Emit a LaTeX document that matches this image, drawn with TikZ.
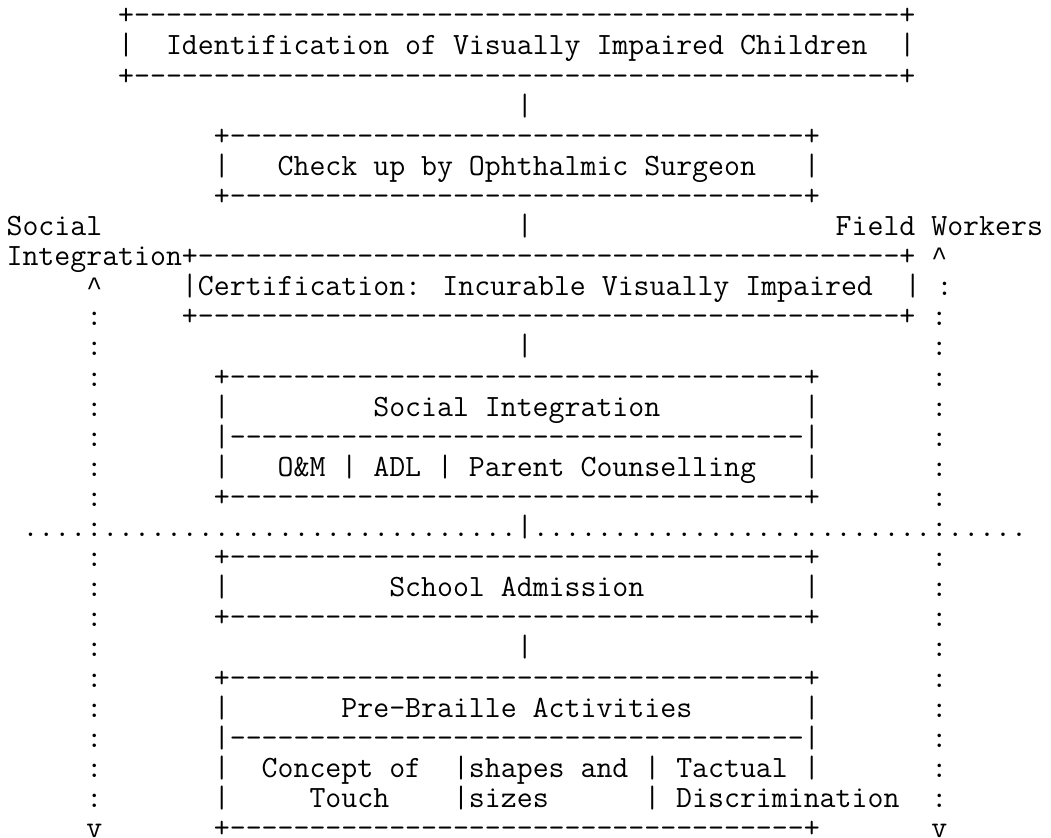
\documentclass[tikz,border=0pt]{standalone}
\usepackage{fontspec}
\newfontfamily\libmono{Liberation Mono}
\ExplSyntaxOn
\NewDocumentCommand\myrep{mm}{\prg_replicate:nn{#1}{#2}}
\ExplSyntaxOff
\newcommand\sk[1]{\hspace*{\dimexpr\fontcharwd\font`x*#1\relax}}
\newcommand\crt{\makebox[\fontcharwd\font`x]{\libmono\fontsize{13.27pt}{15pt}\selectfont\textasciicircum}}
\tikzset{
  ln/.style={anchor=base west, inner sep=0pt, outer sep=0pt, text=black,
    font=\ttfamily\fontsize{15.48pt}{17pt}\selectfont}
}
\begin{document}
\begin{tikzpicture}[x=1pt,y=1pt]
\useasboundingbox (0,0) rectangle (525.5,-419);
\fill[white] (0,0) rectangle (525.5,-419);
\def\xo{3.3}
\def\pitch{15.05}
\def\yo{12.45}
\newcommand\Y[1]{-\yo-(#1-1)*\pitch}
\node[ln] (l1)  at (\xo,{\Y{1}})  {\sk{7}+\myrep{48}{-}+};
\node[ln] (l2)  at (\xo,{\Y{2}})  {\sk{7}|\sk{2}Identification of Visually Impaired Children\sk{2}|};
\node[ln] (l3)  at (\xo,{\Y{3}})  {\sk{7}+\myrep{48}{-}+};
\node[ln] (l4)  at (\xo,{\Y{4}})  {\sk{32}|};
\node[ln] (l5)  at (\xo,{\Y{5}})  {\sk{13}+\myrep{36}{-}+};
\node[ln] (l6)  at (\xo,{\Y{6}})  {\sk{13}|\sk{3}Check up by Ophthalmic Surgeon\sk{3}|};
\node[ln] (l7)  at (\xo,{\Y{7}})  {\sk{13}+\myrep{36}{-}+};
\node[ln] (l8)  at (\xo,{\Y{8}})  {Social\sk{26}|\sk{19}Field Workers};
\node[ln] (l9)  at (\xo,{\Y{9}})  {Integration+\myrep{44}{-}+\sk{1}\crt};
\node[ln] (l10) at (\xo,{\Y{10}}) {\sk{5}\crt\sk{5}|Certification: Incurable Visually Impaired\sk{2}|\sk{1}:};
\node[ln] (l11) at (\xo,{\Y{11}}) {\sk{5}:\sk{5}+\myrep{44}{-}+\sk{1}:};
\node[ln] (l12) at (\xo,{\Y{12}}) {\sk{5}:\sk{26}|\sk{25}:};
\node[ln] (l13) at (\xo,{\Y{13}}) {\sk{5}:\sk{7}+\myrep{36}{-}+\sk{7}:};
\node[ln] (l14) at (\xo,{\Y{14}}) {\sk{5}:\sk{7}|\sk{9}Social Integration\sk{9}|\sk{7}:};
\node[ln] (l15) at (\xo,{\Y{15}}) {\sk{5}:\sk{7}|\myrep{36}{-}|\sk{7}:};
\node[ln] (l16) at (\xo,{\Y{16}}) {\sk{5}:\sk{7}|\sk{3}O\&M | ADL | Parent Counselling\sk{3}|\sk{7}:};
\node[ln] (l17) at (\xo,{\Y{17}}) {\sk{5}:\sk{7}+\myrep{36}{-}+\sk{7}:};
\node[ln] (l18) at (\xo,{\Y{18}}) {\sk{1}\myrep{4}{.}:\myrep{26}{.}|\myrep{25}{.}:\myrep{5}{.}};
\node[ln] (l19) at (\xo,{\Y{19}}) {\sk{5}:\sk{7}+\myrep{36}{-}+\sk{7}:};
\node[ln] (l20) at (\xo,{\Y{20}}) {\sk{5}:\sk{7}|\sk{10}School Admission\sk{10}|\sk{7}:};
\node[ln] (l21) at (\xo,{\Y{21}}) {\sk{5}:\sk{7}+\myrep{36}{-}+\sk{7}:};
\node[ln] (l22) at (\xo,{\Y{22}}) {\sk{5}:\sk{26}|\sk{25}:};
\node[ln] (l23) at (\xo,{\Y{23}}) {\sk{5}:\sk{7}+\myrep{36}{-}+\sk{7}:};
\node[ln] (l24) at (\xo,{\Y{24}}) {\sk{5}:\sk{7}|\sk{7}Pre-Braille Activities\sk{7}|\sk{7}:};
\node[ln] (l25) at (\xo,{\Y{25}}) {\sk{5}:\sk{7}|\myrep{36}{-}|\sk{7}:};
\node[ln] (l26) at (\xo,{\Y{26}}) {\sk{5}:\sk{7}|\sk{2}Concept of\sk{2}|shapes and | Tactual |\sk{7}:};
\node[ln] (l27) at (\xo,{\Y{27}}) {\sk{5}:\sk{7}|\sk{5}Touch\sk{4}|sizes\sk{6}| Discrimination\sk{2}:};
\node[ln] (l28) at (\xo,{\Y{28}}) {\sk{5}v\sk{7}+\myrep{36}{-}+\sk{7}v};
\end{tikzpicture}
\end{document}
